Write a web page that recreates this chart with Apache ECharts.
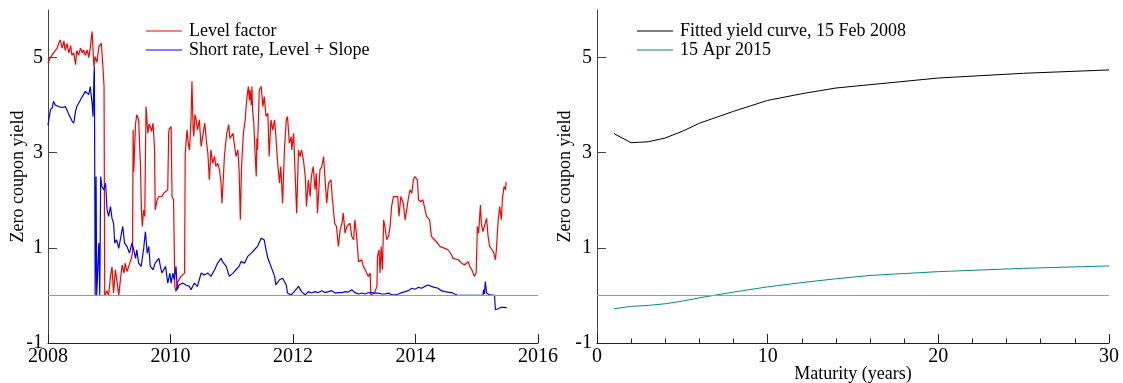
<!DOCTYPE html>
<html>
<head>
<meta charset="utf-8">
<script src="https://cdn.jsdelivr.net/npm/echarts@6/dist/echarts.min.js"></script>
<style>
  html, body { margin: 0; padding: 0; background: #fff; }
  #chart { width: 1123px; height: 383px; }
</style>
</head>
<body>
<div id="chart"></div>
<script>
// left panel: level factor and short rate, 2008 - mid 2015
const levelYears = [
  2008.00, 2008.04, 2008.09, 2008.15, 2008.175, 2008.20, 2008.23, 2008.26, 2008.28, 2008.31,
  2008.34, 2008.37, 2008.39, 2008.42, 2008.45, 2008.47, 2008.50, 2008.53, 2008.56, 2008.58,
  2008.61, 2008.64, 2008.665, 2008.69, 2008.72, 2008.75, 2008.77, 2008.80, 2008.83, 2008.87,
  2008.90, 2008.915, 2008.926, 2008.96, 2008.99, 2009.02, 2009.045, 2009.07, 2009.10, 2009.13,
  2009.155, 2009.18, 2009.21, 2009.24, 2009.26, 2009.29, 2009.32, 2009.36, 2009.38, 2009.39,
  2009.40, 2009.43, 2009.45, 2009.48, 2009.51, 2009.525, 2009.54, 2009.56, 2009.58, 2009.60,
  2009.63, 2009.65, 2009.67, 2009.69, 2009.715, 2009.74, 2009.75, 2009.78, 2009.81, 2009.835,
  2009.86, 2009.89, 2009.92, 2009.955, 2009.97, 2009.98, 2010.01, 2010.025, 2010.05, 2010.07,
  2010.09, 2010.12, 2010.14, 2010.17, 2010.20, 2010.23, 2010.24, 2010.27, 2010.29, 2010.31,
  2010.335, 2010.35, 2010.37, 2010.38, 2010.40, 2010.42, 2010.44, 2010.47, 2010.50, 2010.525,
  2010.56, 2010.59, 2010.61, 2010.634, 2010.66, 2010.69, 2010.72, 2010.74, 2010.77, 2010.80,
  2010.825, 2010.84, 2010.86, 2010.88, 2010.90, 2010.92, 2010.95, 2010.97, 2010.99, 2011.02,
  2011.04, 2011.07, 2011.10, 2011.12, 2011.14, 2011.16, 2011.19, 2011.22, 2011.23, 2011.25,
  2011.27, 2011.29, 2011.30, 2011.32, 2011.33, 2011.34, 2011.36, 2011.38, 2011.40, 2011.41,
  2011.42, 2011.45, 2011.48, 2011.51, 2011.53, 2011.56, 2011.59, 2011.61, 2011.64, 2011.67,
  2011.70, 2011.72, 2011.75, 2011.78, 2011.80, 2011.83, 2011.86, 2011.89, 2011.91, 2011.94,
  2011.97, 2011.98, 2012.01, 2012.03, 2012.06, 2012.09, 2012.115, 2012.14, 2012.17, 2012.20,
  2012.22, 2012.25, 2012.28, 2012.30, 2012.33, 2012.36, 2012.38, 2012.40, 2012.44, 2012.47,
  2012.50, 2012.52, 2012.55, 2012.58, 2012.62, 2012.64, 2012.68, 2012.71, 2012.74, 2012.77,
  2012.80, 2012.82, 2012.85, 2012.88, 2012.90, 2012.93, 2012.96, 2012.99, 2013.01, 2013.04,
  2013.07, 2013.09, 2013.12, 2013.15, 2013.18, 2013.20, 2013.23, 2013.26, 2013.27, 2013.30,
  2013.33, 2013.37, 2013.38, 2013.405, 2013.42, 2013.44, 2013.46, 2013.48, 2013.50, 2013.53,
  2013.56, 2013.585, 2013.61, 2013.64, 2013.67, 2013.71, 2013.73, 2013.76, 2013.80, 2013.83,
  2013.86, 2013.88, 2013.91, 2013.94, 2013.965, 2013.99, 2014.03, 2014.05, 2014.085, 2014.12,
  2014.15, 2014.18, 2014.205, 2014.23, 2014.26, 2014.29, 2014.31, 2014.36, 2014.40, 2014.42,
  2014.48, 2014.53, 2014.59, 2014.61, 2014.64, 2014.70, 2014.75, 2014.80, 2014.83, 2014.86,
  2014.885, 2014.92, 2014.96, 2014.99, 2015.01, 2015.03, 2015.06, 2015.075, 2015.10, 2015.13,
  2015.16, 2015.185, 2015.21, 2015.25, 2015.28, 2015.305, 2015.32, 2015.35, 2015.375, 2015.40,
  2015.42, 2015.445, 2015.47, 2015.48
];
const levelValues = [
  4.88, 5.00, 5.10, 5.20, 5.30, 5.37, 5.20, 5.35, 5.15, 5.30,
  5.10, 5.25, 5.05, 5.10, 4.85, 5.15, 5.05, 5.20, 5.10, 5.16,
  5.05, 5.16, 5.00, 5.20, 5.55, 4.81, 5.02, 4.90, 5.23, 5.30,
  4.74, 4.39, 0, 0.10, 0, 0.40, 0.60, 0.05, 0.54, 0.26,
  0, 0.30, 0.64, 0.47, 0.68, 0.50, 0.47, 0.78, 0.90, 3.48,
  2.60, 3.62, 3.80, 3.69, 2.71, 1.80, 1.45, 1.80, 1.66, 3.97,
  3.41, 3.60, 3.55, 3.45, 3.62, 3.06, 1.80, 2.01, 2.08, 2.11,
  2.08, 2.15, 2.13, 2.22, 3.41, 3.50, 3.55, 2.08, 2.01, 0.19,
  0.08, 0.29, 0.33, 0.40, 0.43, 0.47, 2.99, 3.48, 3.20, 3.06,
  3.69, 4.50, 3.50, 3.34, 3.80, 3.69, 3.48, 3.69, 3.13, 3.34,
  3.62, 3.20, 2.99, 2.43, 3.06, 2.78, 2.92, 2.71, 2.78, 2.64,
  2.36, 1.94, 2.40, 2.92, 3.20, 3.41, 3.59, 3.30, 3.27, 3.41,
  3.20, 2.92, 3.06, 2.64, 1.59, 2.71, 3.41, 3.69, 3.90, 4.18,
  4.39, 4.10, 4.32, 4.00, 4.39, 3.90, 3.62, 3.00, 2.50, 3.30,
  3.06, 4.32, 4.39, 3.97, 4.18, 3.76, 3.83, 2.92, 3.69, 3.48,
  3.69, 3.34, 2.78, 2.36, 2.71, 1.94, 3.06, 3.69, 3.76, 3.20,
  3.34, 3.06, 3.41, 2.71, 1.73, 3.06, 2.92, 3.06, 2.85, 2.50,
  1.87, 2.43, 2.08, 2.50, 2.71, 2.22, 2.57, 1.73, 2.64, 2.71,
  2.92, 2.50, 1.94, 2.36, 2.43, 2.08, 1.52, 1.45, 1.03, 1.38,
  1.52, 1.73, 1.31, 1.45, 1.45, 1.52, 1.24, 1.17, 1.59, 1.24,
  0.71, 0.68, 0.75, 0.61, 0.54, 0.47, 0.40, 0.47, 0.01, 0.05,
  0.05, 0.19, 0.82, 0.96, 0.47, 1.03, 0.54, 1.59, 1.45, 1.17,
  1.24, 1.45, 1.87, 2.08, 2.11, 2.08, 1.66, 2.08, 1.94, 1.59,
  1.59, 2.01, 2.22, 2.15, 2.43, 2.50, 2.43, 2.01, 1.97, 2.01,
  1.97, 1.66, 1.62, 1.59, 1.24, 1.20, 1.17, 1.10, 1.03, 1.03,
  0.99, 0.96, 0.85, 0.78, 0.75, 0.75, 0.68, 0.64, 0.68, 0.71,
  0.61, 0.54, 0.40, 0.47, 1.45, 1.31, 1.90, 1.52, 1.34, 1.38,
  1.62, 1.24, 1.03, 0.96, 0.89, 0.75, 0.96, 1.59, 1.87, 1.59,
  2.04, 2.29, 2.22, 2.39
];

const shortYears = [
  2008.00, 2008.02, 2008.04, 2008.07, 2008.09, 2008.12, 2008.15, 2008.175, 2008.20, 2008.23,
  2008.26, 2008.28, 2008.31, 2008.34, 2008.37, 2008.39, 2008.42, 2008.45, 2008.47, 2008.50,
  2008.53, 2008.56, 2008.58, 2008.61, 2008.64, 2008.665, 2008.69, 2008.72, 2008.735, 2008.75,
  2008.757, 2008.77, 2008.785, 2008.795, 2008.82, 2008.83, 2008.845, 2008.86, 2008.88, 2008.91,
  2008.94, 2008.965, 2008.99, 2009.02, 2009.045, 2009.07, 2009.09, 2009.12, 2009.155, 2009.19,
  2009.22, 2009.25, 2009.29, 2009.33, 2009.37, 2009.40, 2009.43, 2009.45, 2009.48, 2009.52,
  2009.56, 2009.59, 2009.62, 2009.645, 2009.67, 2009.715, 2009.75, 2009.81, 2009.835, 2009.86,
  2009.92, 2009.955, 2009.99, 2010.01, 2010.04, 2010.06, 2010.09, 2010.11, 2010.14, 2010.20,
  2010.25, 2010.31, 2010.335, 2010.39, 2010.44, 2010.50, 2010.55, 2010.61, 2010.66, 2010.72,
  2010.77, 2010.825, 2010.85, 2010.91, 2010.96, 2011.02, 2011.07, 2011.12, 2011.15, 2011.21,
  2011.26, 2011.32, 2011.37, 2011.42, 2011.48, 2011.53, 2011.56, 2011.59, 2011.64, 2011.70,
  2011.72, 2011.78, 2011.83, 2011.89, 2011.91, 2011.97, 2012.02, 2012.09, 2012.14, 2012.20,
  2012.25, 2012.30, 2012.36, 2012.41, 2012.47, 2012.52, 2012.58, 2012.63, 2012.69, 2012.74,
  2012.80, 2012.85, 2012.90, 2012.96, 2013.01, 2013.07, 2013.12, 2013.18, 2013.23, 2013.28,
  2013.34, 2013.39, 2013.45, 2013.50, 2013.56, 2013.61, 2013.67, 2013.72, 2013.775, 2013.83,
  2013.88, 2013.94, 2013.99, 2014.05, 2014.10, 2014.15, 2014.205, 2014.26, 2014.31, 2014.37,
  2014.42, 2014.48, 2014.53, 2014.59, 2014.64, 2014.695, 2015.10, 2015.11, 2015.125, 2015.14,
  2015.16, 2015.185, 2015.21, 2015.29, 2015.305, 2015.32, 2015.35, 2015.40, 2015.457, 2015.49
];
const shortValues = [
  3.58, 3.75, 3.90, 3.95, 4.08, 4.00, 4.04, 3.97, 4.01, 3.95,
  3.94, 3.97, 3.90, 3.80, 3.73, 3.67, 3.62, 3.87, 3.97, 4.04,
  4.00, 4.18, 4.20, 4.29, 4.32, 4.22, 4.39, 4.04, 3.76, 4.60,
  4.81, 0, 2.50, 0, 0, 1.10, 0, 2.50, 2.29, 2.22,
  2.36, 1.80, 1.66, 1.87, 1.62, 1.52, 1.10, 1.17, 0.99, 1.24,
  1.45, 1.10, 1.03, 0.89, 1.10, 0.96, 0.78, 0.96, 0.68, 0.61,
  0.96, 1.34, 0.89, 1.03, 0.61, 0.54, 0.68, 0.78, 0.61, 0.47,
  0.61, 0.26, 0.47, 0.26, 0.47, 0.33, 0.61, 0.12, 0.22, 0.26,
  0.22, 0.19, 0.12, 0.26, 0.19, 0.47, 0.43, 0.47, 0.40, 0.54,
  0.68, 0.78, 0.71, 0.61, 0.40, 0.47, 0.54, 0.61, 0.71, 0.68,
  0.82, 0.89, 0.96, 1.03, 1.20, 1.17, 0.96, 0.78, 0.61, 0.40,
  0.22, 0.33, 0.36, 0.22, 0.05, 0.01, 0.08, 0.19, 0.08, 0.01,
  0.08, 0.05, 0.08, 0.06, 0.10, 0.06, 0.08, 0.10, 0.05, 0.06,
  0.06, 0.08, 0.07, 0.12, 0.06, 0.03, 0.05, 0.03, 0.06, 0.06,
  0.05, 0.05, 0.03, 0.03, 0.05, 0.01, 0.01, 0.03, 0.06, 0.08,
  0.10, 0.15, 0.13, 0.17, 0.15, 0.19, 0.22, 0.19, 0.17, 0.15,
  0.10, 0.08, 0.07, 0.06, 0.03, 0, 0, 0.12, 0.03, 0.29,
  0.05, 0.08, 0.01, 0, -0.30, -0.31, -0.28, -0.25, -0.25, -0.26
];

// right panel: fitted yield curves by maturity
const maturities2008 = [1, 2, 3, 4, 5, 6, 8, 10, 12, 14, 16, 20, 25, 30];
const yields2008 = [3.40, 3.21, 3.23, 3.31, 3.45, 3.62, 3.87, 4.10, 4.24, 4.36, 4.43, 4.57, 4.67, 4.74];
const maturities2015 = [1, 2, 3, 4, 5, 6, 7, 8, 10, 12, 14, 16, 20, 25, 30];
const yields2015 = [-0.28, -0.23, -0.21, -0.175, -0.12, -0.05, 0.01, 0.07, 0.18, 0.27, 0.35, 0.42, 0.50, 0.57, 0.62];

const yLabelValues = [-1, 1, 3, 5];
const yTickValues = [1, 3, 5];

const font = 'Liberation Serif';
const zip = (xs, ys) => xs.map((x, i) => [x, ys[i]]);

const zeroLine = {
  silent: true,
  symbol: 'none',
  label: { show: false },
  lineStyle: { color: '#9a9a9a', width: 1, type: 'solid' },
  data: [{ yAxis: 0 }]
};

const makeYAxis = (gridIndex, nameGap) => ({
  type: 'value',
  gridIndex,
  min: -1,
  max: 6,
  name: 'Zero coupon yield',
  nameLocation: 'middle',
  nameGap,
  nameMoveOverlap: false,
  nameTextStyle: { fontFamily: font, fontSize: 18, color: '#000' },
  axisLine: { show: true, onZero: false, lineStyle: { color: '#444' } },
  axisTick: { inside: true, length: 9, customValues: yTickValues, lineStyle: { color: '#444' } },
  axisLabel: { customValues: yLabelValues, fontFamily: font, fontSize: 20, color: '#000', margin: 5 },
  splitLine: { show: false }
});

const makeLegend = (left, names) => ({
  data: names,
  left,
  top: 17,
  orient: 'vertical',
  icon: 'rect',
  itemWidth: 36,
  itemHeight: 1.2,
  itemGap: 1,
  textStyle: { fontFamily: font, fontSize: 18, color: '#000', lineHeight: 18, padding: [0, 0, 0, 2] }
});

const chart = echarts.init(document.getElementById('chart'));

const option = {
  animation: false,
  legend: [
    makeLegend(141, ['Level factor', 'Short rate, Level + Slope']),
    makeLegend(632, ['Fitted yield curve, 15 Feb 2008', '15 Apr 2015'])
  ],
  grid: [
    { left: 48, top: 10, width: 490, height: 333, outerBoundsMode: 'none' },
    { left: 597, top: 10, width: 512, height: 333, outerBoundsMode: 'none' }
  ],
  xAxis: [
    {
      type: 'value',
      gridIndex: 0,
      min: 2008,
      max: 2016,
      interval: 2,
      axisLine: { onZero: false, lineStyle: { color: '#222' } },
      axisTick: { inside: true, length: 9, lineStyle: { color: '#222' } },
      axisLabel: { fontFamily: font, fontSize: 20, color: '#000', margin: 4, formatter: (v) => String(v) },
      splitLine: { show: false }
    },
    {
      type: 'value',
      gridIndex: 1,
      min: 0,
      max: 30,
      interval: 10,
      name: 'Maturity (years)',
      nameLocation: 'middle',
      nameGap: 22,
      nameMoveOverlap: false,
      nameTextStyle: { fontFamily: font, fontSize: 18, color: '#000' },
      axisLine: { onZero: false, lineStyle: { color: '#222' } },
      axisTick: { inside: true, length: 9, lineStyle: { color: '#222' } },
      minorTick: { show: true, splitNumber: 5, length: 4.5, lineStyle: { color: '#222' } },
      axisLabel: { fontFamily: font, fontSize: 20, color: '#000', margin: 4 },
      splitLine: { show: false }
    }
  ],
  yAxis: [makeYAxis(0, 21), makeYAxis(1, 23)],
  series: [
    {
      name: 'Level factor',
      type: 'line',
      xAxisIndex: 0,
      yAxisIndex: 0,
      data: zip(levelYears, levelValues),
      color: '#ff0000',
      showSymbol: false,
      lineStyle: { width: 1.2, color: '#ff0000' },
      markLine: zeroLine
    },
    {
      name: 'Short rate, Level + Slope',
      type: 'line',
      xAxisIndex: 0,
      yAxisIndex: 0,
      data: zip(shortYears, shortValues),
      color: '#0000ff',
      showSymbol: false,
      lineStyle: { width: 1.2, color: '#0000ff' }
    },
    {
      name: 'Fitted yield curve, 15 Feb 2008',
      type: 'line',
      xAxisIndex: 1,
      yAxisIndex: 1,
      data: zip(maturities2008, yields2008),
      color: '#000000',
      showSymbol: false,
      lineStyle: { width: 1, color: '#000000' },
      markLine: zeroLine
    },
    {
      name: '15 Apr 2015',
      type: 'line',
      xAxisIndex: 1,
      yAxisIndex: 1,
      data: zip(maturities2015, yields2015),
      color: '#008b8b',
      showSymbol: false,
      lineStyle: { width: 1, color: '#008b8b' }
    }
  ]
};

chart.setOption(option);

window.addEventListener('resize', () => {
  chart.resize();
});
</script>
</body>
</html>
